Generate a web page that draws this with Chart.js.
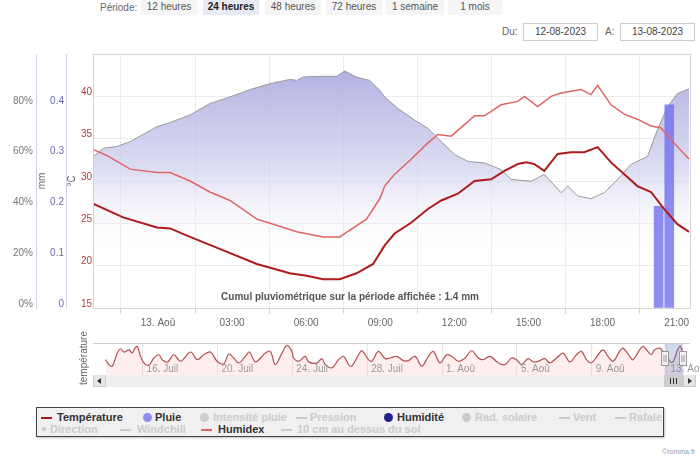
<!DOCTYPE html>
<html lang="fr">
<head>
<meta charset="utf-8">
<title>Météo - 24 heures</title>
<script src="https://cdn.jsdelivr.net/npm/chart.js@4.4.0/dist/chart.umd.min.js"></script>
<style>
    body { margin: 0; background: #fff; font-family: "Liberation Sans", Arial, sans-serif; color: #666; }
    #page { position: relative; width: 700px; height: 462px; overflow: hidden; }
    .abs { position: absolute; }
    .periode { left: 100px; top: 1px; font-size: 10px; line-height: 14px; }
    .btn { top: -2px; height: 17px; line-height: 17px; font-size: 10px; text-align: center; background: #f5f5f5; color: #555; }
    .btn.actif { background: #e6ebf5; color: #222; font-weight: bold; }
    .date-lbl { top: 26px; font-size: 10px; line-height: 12px; }
    .date-box { top: 23px; width: 73px; height: 16px; border: 1px solid #ccc; font-size: 10px; line-height: 16px; text-align: center; color: #444; }
    .cumul { left: 200px; width: 300px; top: 291px; text-align: center; font-size: 10px; font-weight: bold; color: #555; }
    .nav-titre { left: 54px; top: 352px; width: 60px; text-align: center; font-size: 10px; line-height: 12px; transform: rotate(-90deg); color: #666; }
    .scroll-track { left: 93px; top: 375px; width: 600px; height: 12px; background: #efefef; }
    .scroll-btn { top: 375px; width: 11px; height: 11px; background: #e6e6e6; border: 1px solid #ccc; border-width: 0 1px 1px 1px; }
    .tri-g { position: absolute; left: 3px; top: 3px; border-right: 4px solid #333; border-top: 3px solid transparent; border-bottom: 3px solid transparent; }
    .tri-d { position: absolute; left: 4px; top: 3px; border-left: 4px solid #333; border-top: 3px solid transparent; border-bottom: 3px solid transparent; }
    .scroll-thumb { left: 664px; top: 375px; width: 19px; height: 12px; background: #cccccc; }
    .grip { position: absolute; top: 3px; width: 1px; height: 6px; background: #333; }
    #legende { left: 36px; top: 407px; width: 626px; height: 28px; border: 1px solid #444; background: #f0f0f0; box-shadow: 1px 1px 2px rgba(0,0,0,0.25); }
    .item { position: absolute; font-size: 11px; font-weight: bold; line-height: 12px; color: #333; white-space: nowrap; }
    .item.off { color: #ccc; }
    .sym-ligne { position: absolute; width: 11px; height: 2px; }
    .sym-rond { position: absolute; width: 9px; height: 9px; border-radius: 50%; }
    .copy { left: 662px; top: 448px; font-size: 7px; color: #999; white-space: nowrap; }
</style>
</head>
<body>
<div id="page">
    <div class="abs periode">Période:</div>
    <div class="abs btn" style="left:141px;width:56px">12 heures</div>
    <div class="abs btn actif" style="left:203px;width:56px">24 heures</div>
    <div class="abs btn" style="left:265px;width:56px">48 heures</div>
    <div class="abs btn" style="left:326px;width:56px">72 heures</div>
    <div class="abs btn" style="left:386px;width:58px">1 semaine</div>
    <div class="abs btn" style="left:448px;width:54px">1 mois</div>

    <div class="abs date-lbl" style="left:502px">Du:</div>
    <div class="abs date-box" style="left:523px">12-08-2023</div>
    <div class="abs date-lbl" style="left:605px">A:</div>
    <div class="abs date-box" style="left:620px">13-08-2023</div>

    <canvas id="mainChart" class="abs" width="700" height="295" style="left:0;top:45px"></canvas>
    <div class="abs cumul">Cumul pluviométrique sur la période affichée : 1.4 mm</div>

    <div class="abs nav-titre">température</div>
    <div class="abs scroll-track"></div>
    <canvas id="navChart" class="abs" width="700" height="40" style="left:0;top:338px"></canvas>
    <div class="abs scroll-btn" style="left:93px"><span class="tri-g"></span></div>
    <div class="abs scroll-thumb"><span class="grip" style="left:6px"></span><span class="grip" style="left:9px"></span><span class="grip" style="left:12px"></span></div>
    <div class="abs scroll-btn" style="left:683px"><span class="tri-d"></span></div>

    <div class="abs" id="legende">
        <span class="sym-ligne" style="left:4px;top:9px;background:#a01c1c"></span><span class="item" style="left:20px;top:3px">Température</span>
        <span class="sym-rond" style="left:106px;top:5px;background:#8c8cf0"></span><span class="item" style="left:118px;top:3px">Pluie</span>
        <span class="sym-rond" style="left:163px;top:5px;background:#ccc"></span><span class="item off" style="left:176px;top:3px">Intensité pluie</span>
        <span class="sym-ligne" style="left:259px;top:9px;background:#ccc"></span><span class="item off" style="left:273px;top:3px">Pression</span>
        <span class="sym-rond" style="left:347px;top:5px;background:#20208f"></span><span class="item" style="left:360px;top:3px">Humidité</span>
        <span class="sym-rond" style="left:425px;top:5px;background:#ccc"></span><span class="item off" style="left:438px;top:3px">Rad. solaire</span>
        <span class="sym-ligne" style="left:522px;top:9px;background:#ccc"></span><span class="item off" style="left:536px;top:3px">Vent</span>
        <span class="sym-ligne" style="left:578px;top:9px;background:#ccc"></span><span class="item off" style="left:592px;top:3px">Rafale</span>

        <span class="sym-rond" style="left:5px;top:19px;width:4px;height:4px;background:#ccc"></span><span class="item off" style="left:13px;top:15px">Direction</span>
        <span class="sym-ligne" style="left:83px;top:21px;background:#ccc"></span><span class="item off" style="left:100px;top:15px">Windchill</span>
        <span class="sym-ligne" style="left:164px;top:21px;background:#e06666"></span><span class="item" style="left:181px;top:15px">Humidex</span>
        <span class="sym-ligne" style="left:244px;top:21px;background:#ccc"></span><span class="item off" style="left:260px;top:15px">10 cm au dessus du sol</span>
    </div>
    <div class="abs copy">©romma.fr</div>
</div>

<script>
// heures depuis le 13 août 00:00
const tempHours = [-2.61, -1.41, -0.04, 0.49, 1.30, 2.65, 4.00, 5.34, 6.02, 6.69, 7.36, 8.04, 8.71, 9.18, 9.58, 10.26, 10.93, 11.47, 12.14, 12.82, 13.49, 14.03, 14.57, 14.91, 15.24, 15.64, 16.18, 16.72, 17.26, 17.80, 18.34, 18.88, 19.41, 19.96, 20.49, 21.03, 21.50];
const temperature = [27.3, 25.7, 24.5, 24.4, 23.4, 21.8, 20.2, 19.1, 18.8, 18.4, 18.4, 19.1, 20.2, 22.4, 23.8, 25.1, 26.7, 27.7, 28.5, 30.0, 30.2, 31.2, 32.0, 32.2, 32.0, 31.2, 33.2, 33.4, 33.4, 34.0, 32.2, 30.8, 29.4, 28.7, 26.7, 24.9, 24.0];

const humidexHours = [-2.61, -2.06, -1.12, -0.04, 0.49, 1.30, 2.10, 2.92, 4.00, 4.67, 5.61, 6.69, 7.36, 7.77, 8.44, 8.98, 9.18, 9.58, 10.26, 10.93, 11.33, 11.87, 12.82, 13.22, 13.89, 14.57, 14.84, 15.37, 15.92, 16.32, 16.72, 17.13, 17.53, 17.80, 18.34, 18.88, 19.41, 19.96, 20.36, 20.76, 21.50];
const humidex = [33.7, 33.0, 31.4, 31.0, 31.0, 30.0, 28.7, 27.7, 25.5, 24.9, 24.0, 23.4, 23.4, 24.2, 25.5, 27.9, 29.4, 30.8, 32.6, 34.5, 35.5, 35.3, 37.7, 37.7, 39.0, 39.4, 40.0, 38.8, 40.0, 40.4, 40.6, 40.8, 40.2, 41.3, 39.0, 37.9, 37.3, 36.5, 36.3, 34.9, 32.6];

const humHours = [-2.61, -2.20, -1.66, -1.12, -0.04, 0.49, 1.30, 2.10, 2.92, 3.73, 4.53, 5.34, 5.61, 5.88, 6.42, 7.23, 7.56, 8.04, 8.57, 8.98, 9.18, 9.72, 10.39, 10.93, 11.47, 12.01, 12.55, 13.22, 13.89, 14.30, 15.11, 15.64, 16.32, 16.59, 16.99, 17.53, 18.07, 18.61, 19.15, 19.82, 20.22, 20.63, 21.03, 21.50];
const humidite = [59.7, 62.9, 63.6, 65.5, 71.4, 73.0, 76.0, 80.5, 83.1, 86.0, 88.3, 90.0, 89.6, 90.9, 91.2, 91.2, 93.3, 90.9, 89.6, 85.7, 83.1, 78.5, 74.0, 70.7, 65.5, 60.4, 57.7, 57.1, 54.5, 50.6, 49.9, 52.6, 45.4, 48.0, 44.1, 43.0, 45.4, 50.6, 56.5, 59.7, 70.1, 79.2, 84.4, 86.3];

const pluieHours = [20.27, 20.70];
const pluie = [0.2, 0.4];

const xTickHours = [0, 3, 6, 9, 12, 15, 18, 21];
const xTickLabels = ['13. Aoû', '03:00', '06:00', '09:00', '12:00', '15:00', '18:00', '21:00'];
const tempTicks = [15, 20, 25, 30, 35, 40];
const humTicks = [0, 20, 40, 60, 80];
const pluieTicks = [0, 0.1, 0.2, 0.3, 0.4];

// navigateur : jours depuis le 13 août 00:00
const navDays = [-29.97, -29.80, -29.62, -29.35, -29.17, -29.00, -28.73, -28.55, -28.41, -28.28,
    -28.14, -27.93, -27.66, -27.40, -27.13, -26.95, -26.68, -26.33, -25.97, -25.44,
    -25.08, -24.73, -24.37, -24.02, -23.66, -23.40, -23.13, -22.86, -22.51, -22.29,
    -21.97, -21.44, -21.17, -20.91, -20.55, -20.28, -20.02, -19.93, -19.66, -19.31,
    -19.13, -18.68, -18.42, -18.24, -17.88, -17.53, -17.26, -16.99, -16.82, -16.46,
    -16.28, -15.93, -15.75, -15.40, -15.04, -14.77, -14.42, -14.06, -13.80, -13.44,
    -13.08, -12.73, -12.46, -12.11, -11.75, -11.48, -11.13, -10.77, -10.42, -10.06,
    -9.80, -9.44, -8.99, -8.64, -8.28, -8.02, -7.75, -7.40, -7.13, -6.86,
    -6.51, -6.24, -5.88, -5.53, -5.17, -4.82, -4.55, -4.28, -4.02, -3.66,
    -3.40, -3.13, -2.86, -2.51, -2.33, -1.97, -1.80, -1.44, -1.26, -1.00,
    -0.82, -0.64, -0.37, -0.11, 0.29, 0.60, 0.74, 0.89];
const navTemp = [21.1, 16.4, 14.9, 27.4, 31.5, 28.4, 30.5, 27.4, 32.1, 33.7,
    25.8, 18.0, 15.9, 22.7, 25.8, 21.1, 18.7, 25.8, 19.6, 28.4,
    21.1, 25.8, 28.4, 19.6, 17.1, 26.5, 22.7, 18.0, 24.3, 28.4,
    19.0, 27.4, 29.0, 16.4, 27.4, 34.7, 29.0, 22.7, 19.6, 24.3,
    19.0, 18.0, 22.1, 16.4, 13.3, 21.1, 24.3, 16.4, 14.9, 25.8,
    29.6, 21.1, 19.6, 29.0, 22.1, 22.7, 24.3, 20.2, 20.2, 24.3,
    14.9, 24.3, 29.0, 18.0, 25.8, 24.3, 19.6, 22.7, 29.6, 22.7,
    21.1, 24.3, 18.0, 16.4, 22.7, 21.1, 16.4, 22.1, 19.0, 19.6,
    22.1, 18.0, 22.7, 27.4, 19.0, 25.8, 29.0, 21.1, 18.0, 25.8,
    30.5, 24.3, 19.6, 29.0, 32.1, 24.3, 21.1, 30.5, 33.7, 29.0,
    25.8, 30.5, 32.1, 27.3, 18.4, 31.0, 34.0, 24.0];
const navTickDays = [-28, -24, -20, -16, -12, -8, -4, 0];
const navTickLabels = ['16. Juil', '20. Juil', '24. Juil', '28. Juil', '1. Aoû', '5. Aoû', '9. Aoû', '13. Aoû'];

const xMin = -2.63;
const xMax = 21.54;

function points(xs, ys) {
    return xs.map((x, i) => ({ x: x, y: ys[i] }));
}

document.addEventListener('DOMContentLoaded', function() {
    Chart.defaults.font.family = '"Liberation Sans", Arial, sans-serif';
    Chart.defaults.font.size = 10;
    Chart.defaults.color = '#666';

    // cadre gris autour de la zone du graphique
    const cadre = {
        id: 'cadre',
        afterDraw(chart) {
            const a = chart.chartArea;
            const ctx = chart.ctx;
            ctx.save();
            ctx.strokeStyle = '#d4d4d4';
            ctx.lineWidth = 1;
            ctx.strokeRect(Math.round(a.left) + 0.5, Math.round(a.top) + 0.5, Math.round(a.right - a.left), Math.round(a.bottom - a.top));
            ctx.restore();
        }
    };

    const degradeHumidite = function(context) {
        const chart = context.chart;
        const a = chart.chartArea;
        if (!a) return 'rgba(170,170,222,0.6)';
        const g = chart.ctx.createLinearGradient(0, a.top, 0, a.bottom);
        g.addColorStop(0, 'rgba(160,160,220,0.9)');
        g.addColorStop(0.45, 'rgba(205,205,238,0.7)');
        g.addColorStop(0.8, 'rgba(255,255,255,0)');
        return g;
    };

    new Chart(document.getElementById('mainChart'), {
        type: 'line',
        data: {
            datasets: [
                {
                    label: 'Température',
                    data: points(tempHours, temperature),
                    yAxisID: 'yTemp',
                    borderColor: '#b01a1a',
                    borderWidth: 2,
                    pointRadius: 0,
                    order: 1
                },
                {
                    label: 'Humidex',
                    data: points(humidexHours, humidex),
                    yAxisID: 'yTemp',
                    borderColor: '#e06464',
                    borderWidth: 1.5,
                    pointRadius: 0,
                    order: 2
                },
                {
                    type: 'bar',
                    label: 'Pluie',
                    data: points(pluieHours, pluie),
                    yAxisID: 'yPluie',
                    backgroundColor: 'rgba(112,112,240,0.8)',
                    barThickness: 9,
                    order: 3
                },
                {
                    label: 'Humidité',
                    data: points(humHours, humidite),
                    yAxisID: 'yHum',
                    borderColor: '#999999',
                    borderWidth: 1,
                    pointRadius: 0,
                    fill: 'origin',
                    backgroundColor: degradeHumidite,
                    order: 4
                }
            ]
        },
        options: {
            responsive: false,
            animation: false,
            layout: { padding: { top: 7, right: 10, left: 0, bottom: 0 } },
            plugins: { legend: { display: false }, tooltip: { enabled: false } },
            scales: {
                x: {
                    type: 'linear',
                    min: xMin,
                    max: xMax,
                    offset: false,
                    afterBuildTicks: s => { s.ticks = xTickHours.map(v => ({ value: v })); },
                    afterFit: s => { s.height = 32; },
                    ticks: {
                        autoSkip: false,
                        maxRotation: 0,
                        padding: 3,
                        color: '#666',
                        callback: v => xTickLabels[xTickHours.indexOf(v)]
                    },
                    grid: { color: '#ebebeb', tickLength: 6, tickColor: '#ccd6eb' },
                    border: { display: false }
                },
                yHum: {
                    position: 'left',
                    weight: 3,
                    min: 0,
                    max: 100,
                    afterBuildTicks: s => { s.ticks = humTicks.map(v => ({ value: v })); },
                    afterFit: s => { s.width = 36; },
                    ticks: { padding: 3, labelOffset: -4, color: '#777', callback: v => v + '%' },
                    grid: { drawOnChartArea: false, drawTicks: false },
                    border: { color: '#ccd6eb' }
                },
                yPluie: {
                    position: 'left',
                    weight: 2,
                    min: 0,
                    max: 0.5,
                    afterBuildTicks: s => { s.ticks = pluieTicks.map(v => ({ value: v })); },
                    afterFit: s => { s.width = 30; },
                    title: { display: true, text: 'mm', color: '#666', padding: 0 },
                    ticks: { padding: 2, labelOffset: -4, color: '#6a6ab0', callback: v => v === 0 ? '0' : v.toFixed(1) },
                    grid: { drawOnChartArea: false, drawTicks: false },
                    border: { color: '#ccd6eb' }
                },
                yTemp: {
                    position: 'left',
                    weight: 1,
                    min: 15,
                    max: 45,
                    afterBuildTicks: s => { s.ticks = tempTicks.map(v => ({ value: v })); },
                    afterFit: s => { s.width = 27; },
                    title: { display: true, text: '°C', color: '#666', padding: 0 },
                    ticks: { padding: 1, labelOffset: -4, color: '#b04040' },
                    grid: { color: '#ebebeb', drawTicks: false },
                    border: { display: false }
                }
            }
        },
        plugins: [cadre]
    });

    // navigateur (mois précédent)
    const navigateur = {
        id: 'navigateur',
        afterDraw(chart) {
            const a = chart.chartArea;
            const x = chart.scales.x;
            const ctx = chart.ctx;
            ctx.save();
            ctx.strokeStyle = '#cfcfcf';
            ctx.lineWidth = 1;
            ctx.beginPath();
            ctx.moveTo(a.left, Math.round(a.top) + 0.5);
            ctx.lineTo(a.right, Math.round(a.top) + 0.5);
            ctx.stroke();

            ctx.fillStyle = '#999';
            ctx.font = '10px "Liberation Sans", Arial, sans-serif';
            ctx.textBaseline = 'middle';
            navTickDays.forEach((d, i) => {
                ctx.fillText(navTickLabels[i], x.getPixelForValue(d) + 4, 31);
            });

            // fenêtre affichée
            const x0 = x.getPixelForValue(xMin / 24);
            const x1 = x.getPixelForValue(xMax / 24);
            ctx.fillStyle = 'rgba(102,133,194,0.3)';
            ctx.fillRect(x0, a.top + 1, x1 - x0, a.bottom - a.top - 1);
            [x0, x1].forEach(px => {
                const hx = Math.round(px) - 3.5;
                ctx.fillStyle = '#f2f2f2';
                ctx.strokeStyle = '#999';
                ctx.fillRect(hx, 13.5, 7, 14);
                ctx.strokeRect(hx, 13.5, 7, 14);
                ctx.beginPath();
                ctx.moveTo(hx + 2.5, 17); ctx.lineTo(hx + 2.5, 24);
                ctx.moveTo(hx + 4.5, 17); ctx.lineTo(hx + 4.5, 24);
                ctx.stroke();
            });
            ctx.restore();
        }
    };

    new Chart(document.getElementById('navChart'), {
        type: 'line',
        data: {
            datasets: [{
                label: 'température',
                data: points(navDays, navTemp),
                borderColor: '#b45050',
                borderWidth: 1.2,
                pointRadius: 0,
                tension: 0.35,
                fill: 'start',
                backgroundColor: 'rgba(255,200,200,0.3)'
            }]
        },
        options: {
            responsive: false,
            animation: false,
            layout: { padding: { top: 5, right: 10, left: 93, bottom: 3 } },
            plugins: { legend: { display: false }, tooltip: { enabled: false } },
            scales: {
                x: {
                    type: 'linear',
                    min: -30.65,
                    max: 1.25,
                    afterBuildTicks: s => { s.ticks = navTickDays.map(v => ({ value: v })); },
                    afterFit: s => { s.height = 0; },
                    ticks: { display: false },
                    grid: { color: '#e6e6e6', drawTicks: false },
                    border: { display: false }
                },
                y: { display: false, min: 6.5, max: 37 }
            }
        },
        plugins: [navigateur]
    });
});
</script>
</body>
</html>
